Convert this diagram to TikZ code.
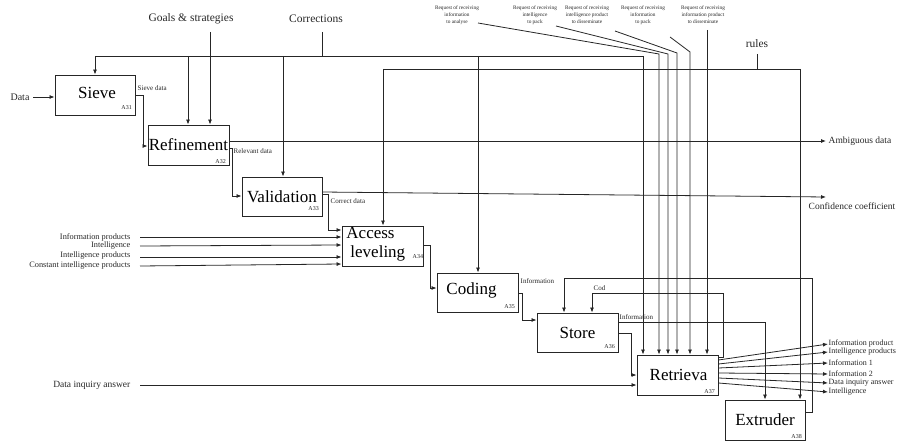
\documentclass[tikz,border=0pt]{standalone}
\usepackage{fontspec}
\setmainfont{Liberation Serif}
\usetikzlibrary{arrows.meta,calc}
\begin{document}
\begin{tikzpicture}[x=1pt,y=-1pt,
  ln/.style={draw=black!85, line width=0.8pt},
  arr/.style={ln, -{Latex[length=5pt,width=4pt]}},
  box/.style={draw=black!85, line width=0.9pt, inner sep=0pt, font=\fontsize{17}{17}\selectfont},
  num/.style={font=\fontsize{6}{6}\selectfont, inner sep=0.5pt, anchor=south east, text=black!85},
  lbl/.style={font=\fontsize{7}{8}\selectfont, inner sep=0.5pt, anchor=west, text=black!85},
  big/.style={font=\fontsize{11.5}{12}\selectfont, inner sep=0.5pt, text=black!85},
  side/.style={font=\fontsize{9.5}{10}\selectfont, inner sep=0.5pt, anchor=west, text=black!85},
  inl/.style={font=\fontsize{8.3}{9}\selectfont, inner sep=0.5pt, anchor=east, text=black!85},
  outl/.style={font=\fontsize{8}{9}\selectfont, inner sep=0.5pt, anchor=west, text=black!85},
  req/.style={font=\fontsize{5.3}{7}\selectfont, align=center, inner sep=0pt, text=black!85},
]
\useasboundingbox (0,0) rectangle (900,441);

% ---------- boxes
\node[box, minimum width=80pt, minimum height=40pt] (sieve) at (95,95) {};
\node[box, minimum width=81pt, minimum height=40pt] (refine) at (188.5,145) {};
\node[box, minimum width=80pt, minimum height=39pt] (valid) at (282,196.5) {};
\node[box, minimum width=81pt, minimum height=40pt] (access) at (382.5,246) {};
\node[box, minimum width=81pt, minimum height=39pt] (coding) at (477.5,292.5) {};
\node[box, minimum width=81pt, minimum height=39pt] (store) at (577.5,332.5) {};
\node[box, minimum width=81pt, minimum height=40pt] (retr) at (677.5,375) {};
\node[box, minimum width=80pt, minimum height=40pt] (extr) at (765,420) {};

\node[box, draw=none] (tsieve) at ([shift={(2,-2)}]sieve.center) {Sieve};
\node[box, draw=none] (trefine) at ([shift={(0,0)}]refine.center) {Refinement};
\node[box, draw=none] (tvalid) at ([shift={(0,0)}]valid.center) {Validation};
\node[box, draw=none, anchor=west] (taccess1) at (346,233) {Access};
\node[box, draw=none, anchor=west] (taccess2) at (350,253) {leveling};
\node[box, draw=none] (tcoding) at ([shift={(-6,-2)}]coding.center) {Coding};
\node[box, draw=none] (tstore) at ([shift={(0,0)}]store.center) {Store};
\node[box, draw=none] (tretr) at ([shift={(1,0)}]retr.center) {Retrieva};
\node[box, draw=none] (textr) at ([shift={(0,0)}]extr.center) {Extruder};

\node[num] (n1) at ([shift={(-3,-5)}]sieve.south east) {A31};
\node[num] (n2) at ([shift={(-3,-1)}]refine.south east) {A32};
\node[num] (n3) at ([shift={(-3,-5)}]valid.south east) {A33};
\node[num, anchor=west] (n4) at (412,257) {A34};
\node[num] (n5) at ([shift={(-3,-3)}]coding.south east) {A35};
\node[num] (n6) at ([shift={(-3,-3)}]store.south east) {A36};
\node[num] (n7) at ([shift={(-3,-1)}]retr.south east) {A37};
\node[num] (n8) at ([shift={(-3,-1)}]extr.south east) {A38};

% ---------- Data input
\node[font=\fontsize{10}{10}\selectfont, inner sep=0.5pt, text=black!85] (data) at (20,97) {Data};
\draw[arr] (data.east) ++(3,0) -- (sieve.west |- data.east);

% ---------- Sieve data
\coordinate (sd1) at (143,95);
\coordinate (sd2) at (143,146);
\draw[arr] (sieve.east |- sd1) -- (sd1) -- (sd2) -- (refine.west |- sd2);
\node[lbl] (sdl) at (137,88) {Sieve data};

% ---------- top control line (y=56)
\coordinate (cL) at (95,56);
\coordinate (cR) at (643,56);
\coordinate (cRef) at (188,56);
\coordinate (cVal) at (283,56);
\coordinate (cCod) at (478,56);
\draw[ln] (cL) -- (cR);
\draw[arr] (cL) -- (cL |- sieve.north);
\draw[arr] (cRef) -- (cRef |- refine.north);
\draw[arr] (cVal) -- (cVal |- valid.north);
\draw[arr] (cCod) -- (cCod |- coding.north);
\draw[arr] (cR) -- (cR |- retr.north);

\node[big] (goals) at (191,19) {Goals \& strategies};
\coordinate (g1) at (210,32);
\draw[arr] (g1) -- (g1 |- refine.north);
\node[big] (corr) at (316,19) {Corrections};
\coordinate (c1) at (322,32);
\draw[ln] (c1) -- (c1 |- cL);

% ---------- rules line (y=69)
\coordinate (rL) at (383,69);
\coordinate (rR) at (800,69);
\draw[ln] (rL) -- (rR);
\draw[arr] (rL) -- (rL |- access.north);
\draw[arr] (rR) -- (rR |- extr.north);
\node[big] (rules) at (757,44) {rules};
\coordinate (ru1) at (757,54);
\draw[ln] (ru1) -- (ru1 |- rL);

% ---------- Refinement outputs
\coordinate (amb) at (826,141);
\draw[arr] (refine.east |- amb) -- (amb);
\node[side] (ambl) at (828,141) {Ambiguous data};
\coordinate (rd0) at (229,148);
\coordinate (rd1) at (232,148);
\coordinate (rd2) at (232,196);
\draw[arr] (rd0) -- (rd1) -- (rd2) -- (valid.west |- rd2);
\node[lbl] (rdl) at (233,151) {Relevant data};

% ---------- Validation outputs
\coordinate (cc0) at (322,192);
\coordinate (cc1) at (826,197);
\draw[arr] (cc0) -- (cc1);
\node[side] (ccl) at (808,206) {Confidence coefficient};
\coordinate (cd1) at (328,194);
\coordinate (cd2) at (328,230);
\draw[arr] (valid.east |- cd1) -- (cd1) -- (cd2) -- (access.west |- cd2);
\node[lbl] (cdl) at (330,201) {Correct data};

% ---------- inputs to Access leveling
\node[inl] (i1) at (131,237) {Information products};
\node[inl] (i2) at (131,246) {Intelligence};
\node[inl] (i3) at (131,256) {Intelligence products};
\node[inl] (i4) at (131,266) {Constant intelligence products};
\draw[arr] (140,237) -- (access.west |- 0,237);
\draw[arr] (140,246) -- (access.west |- 0,245);
\draw[arr] (140,257) -- (access.west |- 0,257);
\draw[arr] (140,266) -- (access.west |- 0,264);

% ---------- Access -> Coding
\coordinate (ac1) at (430,245);
\coordinate (ac2) at (430,288);
\draw[arr] (access.east |- ac1) -- (ac1) -- (ac2) -- (coding.west |- ac2);

% ---------- Coding -> Store
\coordinate (cs1) at (522,293);
\coordinate (cs2) at (522,320);
\draw[arr] (coding.east |- cs1) -- (cs1) -- (cs2) -- (store.west |- cs2);
\node[lbl] (cinf) at (520,281) {Information};

% ---------- Extruder feedback -> Store
\coordinate (ex1) at (812,412);
\coordinate (ex2) at (812,278);
\coordinate (ex3) at (564,278);
\draw[arr] (extr.east |- ex1) -- (ex1) -- (ex2) -- (ex3) -- (ex3 |- store.north);

% ---------- Retrieva feedback (Cod) -> Store
\coordinate (cod1) at (723,357);
\coordinate (cod2) at (723,293);
\coordinate (cod3) at (592,293);
\draw[arr] (retr.east |- cod1) -- (cod1) -- (cod2) -- (cod3) -- (cod3 |- store.north);
\node[lbl] (codl) at (593,288) {Cod};

% ---------- Store outputs
\coordinate (si1) at (765,322);
\draw[arr] (store.east |- si1) -- (si1) -- (si1 |- extr.north);
\node[lbl] (sinf) at (619,317) {Information};
\coordinate (sr1) at (631,333);
\coordinate (sr2) at (631,375);
\draw[arr] (store.east |- sr1) -- (sr1) -- (sr2) -- (retr.west |- sr2);

% ---------- Data inquiry answer input
\node[font=\fontsize{9.5}{10}\selectfont, inner sep=0.5pt, anchor=east, text=black!85] (dia) at (131,385) {Data inquiry answer};
\draw[arr] (140,385) -- (retr.west |- 0,385);

% ---------- Requests
\node[req] (q1) at (457,15) {Request of receiving\\information\\to analyse};
\node[req] (q2) at (535,15) {Request of receiving\\intelligence\\to pack};
\node[req] (q3) at (587,15) {Request of receiving\\intelligence product\\to disseminate};
\node[req] (q4) at (643,15) {Request of receiving\\information\\to pack};
\node[req] (q5) at (703,15) {Request of receiving\\information product\\to disseminate};
\coordinate (v1) at (659,54);
\coordinate (v2) at (668,54);
\coordinate (v3) at (677,53);
\coordinate (v4) at (690,52);
\coordinate (v5) at (707,30);
\draw[arr] (478,23) -- (v1) -- (v1 |- retr.north);
\draw[arr] (556,26) -- (v2) -- (v2 |- retr.north);
\draw[arr] (615,31) -- (v3) -- (v3 |- retr.north);
\draw[arr] (670,37) -- (v4) -- (v4 |- retr.north);
\draw[arr] (v5) -- (v5 |- retr.north);

% ---------- Retrieva outputs
\node[outl] (o1) at (828,344) {Information product};
\node[outl] (o2) at (828,352) {Intelligence products};
\node[outl] (o3) at (828,363) {Information 1};
\node[outl] (o4) at (828,374) {Information 2};
\node[outl] (o5) at (828,383) {Data inquiry answer};
\node[outl] (o6) at (828,392) {Intelligence};
\draw[arr] (retr.east |- 0,360) -- (o1.west);
\draw[arr] (retr.east |- 0,364) -- (o2.west);
\draw[arr] (retr.east |- 0,368) -- (o3.west);
\draw[arr] (retr.east |- 0,373) -- (o4.west);
\draw[arr] (retr.east |- 0,378) -- (o5.west);
\draw[arr] (retr.east |- 0,383) -- (o6.west);
\end{tikzpicture}
\end{document}
